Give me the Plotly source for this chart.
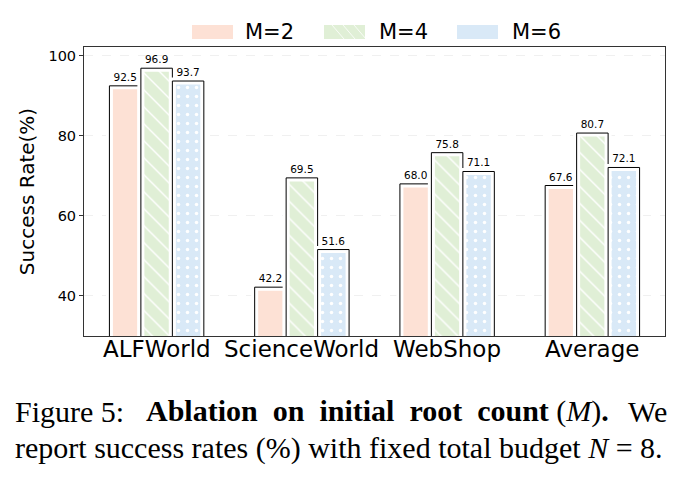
import plotly.graph_objects as go

categories = ["ALFWorld", "ScienceWorld", "WebShop", "Average"]
series_names = ["M=2", "M=4", "M=6"]
m2 = [92.5, 42.2, 68.0, 67.6]
m4 = [96.9, 69.5, 75.8, 80.7]
m6 = [93.7, 51.6, 71.1, 72.1]
y_ticks = [40, 60, 80, 100]

values = [m2, m4, m6]
fills = ["#fde1d5", "#e0efd6", "#d9e9f7"]
shapes = ["", "\\", "."]

group_w = 0.65
bar_w = group_w / 3

fig = go.Figure()
for i, (name, vals) in enumerate(zip(series_names, values)):
    off = -group_w / 2 + i * bar_w
    fig.add_trace(go.Bar(
        x=categories, y=vals, name=name, offset=off, width=bar_w,
        marker=dict(color="white", line=dict(color="black", width=1)),
        showlegend=False,
    ))
    pattern = dict(shape=shapes[i], fgcolor="white", bgcolor=fills[i],
                   size=12 if shapes[i] == "\\" else 9, solidity=0.12,
                   fillmode="replace") if shapes[i] else None
    fig.add_trace(go.Bar(
        x=categories, y=vals, name=name, offset=off, width=bar_w,
        marker=dict(color=fills[i], line=dict(color="white", width=7),
                    pattern=pattern),
        showlegend=False,
    ))
    fig.add_trace(go.Bar(
        x=categories, y=vals, name=name, offset=off, width=bar_w,
        marker=dict(color="rgba(0,0,0,0)", line=dict(color="black", width=1)),
        text=[f"{v:.1f}" for v in vals], textposition="outside",
        textfont=dict(size=10.5, color="black", family="DejaVu Sans"),
        cliponaxis=False, showlegend=False,
    ))

L, R, T, B = 84, 665, 47, 336
PW, PH = R - L, B - T
def px(x):
    return (x - L) / PW
def py(y):
    return (B - y) / PH

# legend drawn as layout shapes + text
legend_swatch_x = [192, 324, 457]
legend_label_x = [243, 377, 510]
for i, name in enumerate(series_names):
    fig.add_shape(type="rect", xref="paper", yref="paper",
                  x0=px(legend_swatch_x[i]), x1=px(legend_swatch_x[i] + 41),
                  y0=py(39), y1=py(25), fillcolor=fills[i], line=dict(width=0))
    fig.add_annotation(xref="paper", yref="paper", x=px(legend_label_x[i]), y=py(32),
                       xanchor="left", yanchor="middle", text=name, showarrow=False,
                       font=dict(size=21, family="DejaVu Sans", color="black"))
for k in range(3):
    x0 = legend_swatch_x[1] + 8 + k * 11
    fig.add_shape(type="line", xref="paper", yref="paper",
                  x0=px(x0), x1=px(x0 + 12), y0=py(25), y1=py(39),
                  line=dict(color="rgba(255,255,255,0.8)", width=1))

# category labels as annotations to match their vertical placement
for c in categories:
    fig.add_annotation(xref="x", yref="paper", x=c, y=py(334),
                       xanchor="center", yanchor="top", text=c, showarrow=False,
                       font=dict(size=23, family="DejaVu Sans", color="black"))

fig.update_layout(
    width=688, height=480,
    margin=dict(l=L, r=688 - R, t=T, b=480 - B),
    barmode="overlay",
    plot_bgcolor="white", paper_bgcolor="white",
    font=dict(family="DejaVu Sans", color="black"),
    uniformtext=dict(minsize=10, mode="show"),
    showlegend=False,
)
fig.update_xaxes(
    showline=True, linecolor="#333", linewidth=1, mirror=True,
    showticklabels=False, ticks="", showgrid=False,
)
fig.update_yaxes(
    range=[30, 102.2], tickvals=y_ticks, ticktext=[str(t) for t in y_ticks],
    showline=True, linecolor="#333", linewidth=1, mirror=True,
    ticks="outside", ticklen=4, tickcolor="#333",
    tickfont=dict(size=14.5), showgrid=True, gridcolor="#f0f0f0", griddash="dash",
    title=dict(text="Success Rate(%)", font=dict(size=20), standoff=8),
    zeroline=False,
)

cap_font = dict(family="Liberation Serif", size=30, color="black")
fig.add_annotation(xref="paper", yref="paper", x=px(13), y=py(411),
                   xanchor="left", yanchor="middle", text="Figure&nbsp;5:",
                   showarrow=False, font=cap_font)
fig.add_annotation(xref="paper", yref="paper", x=px(144), y=py(411),
                   xanchor="left", yanchor="middle",
                   text="<b>Ablation&nbsp; on&nbsp; initial&nbsp; root&nbsp; count</b> (<i>M</i>)<b>.</b>",
                   showarrow=False, font=cap_font)
fig.add_annotation(xref="paper", yref="paper", x=px(669), y=py(411),
                   xanchor="right", yanchor="middle", text="We",
                   showarrow=False, font=cap_font)
fig.add_annotation(xref="paper", yref="paper", x=px(13), y=py(448),
                   xanchor="left", yanchor="middle",
                   text="report success rates (%) with fixed total budget <i>N</i> = 8.",
                   showarrow=False, font=cap_font)

fig.write_html("out.html")
